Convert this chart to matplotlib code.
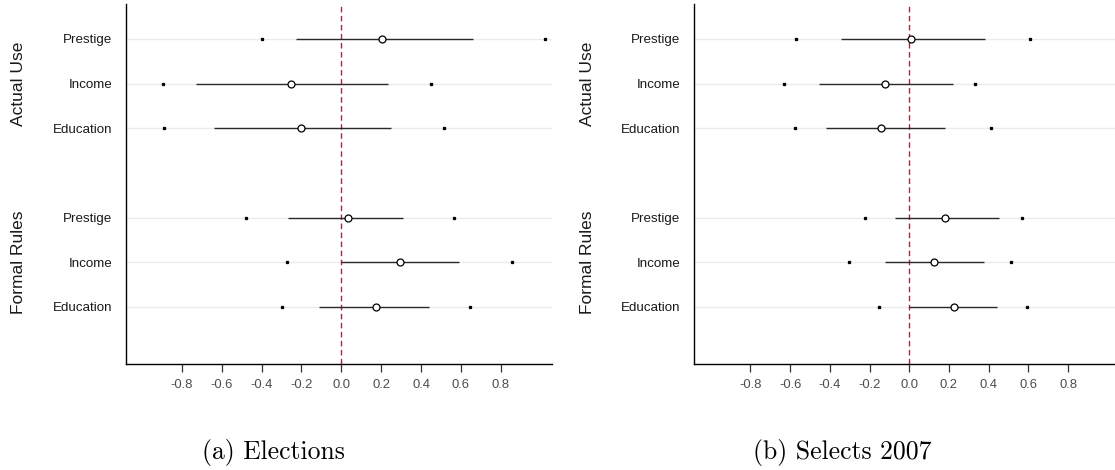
import matplotlib
matplotlib.use("Agg")
import matplotlib.pyplot as plt
from matplotlib.transforms import blended_transform_factory

plt.rcParams['font.family'] = ['Liberation Sans', 'DejaVu Sans']

categories = ["Prestige", "Income", "Education"]
groups = ["Actual Use", "Formal Rules"]
x_ticks = [-0.8, -0.6, -0.4, -0.2, 0.0, 0.2, 0.4, 0.6, 0.8]
x_tick_labels = ["-0.8", "-0.6", "-0.4", "-0.2", "0.0", "0.2", "0.4", "0.6", "0.8"]
captions = ["(a) Elections", "(b) Selects 2007"]

# Panel (a) Elections
a_au_est = [0.205, -0.252, -0.200]
a_au_lo = [-0.227, -0.727, -0.641]
a_au_hi = [0.659, 0.234, 0.247]
a_au_dlo = [-0.398, -0.893, -0.887]
a_au_dhi = [1.021, 0.448, 0.517]
a_fr_est = [0.036, 0.295, 0.173]
a_fr_lo = [-0.266, 0.000, -0.110]
a_fr_hi = [0.308, 0.589, 0.441]
a_fr_dlo = [-0.479, -0.270, -0.297]
a_fr_dhi = [0.563, 0.857, 0.644]

# Panel (b) Selects 2007
b_au_est = [0.009, -0.121, -0.141]
b_au_lo = [-0.346, -0.457, -0.420]
b_au_hi = [0.380, 0.220, 0.179]
b_au_dlo = [-0.571, -0.630, -0.577]
b_au_dhi = [0.609, 0.332, 0.413]
b_fr_est = [0.180, 0.127, 0.223]
b_fr_lo = [-0.073, -0.123, 0.000]
b_fr_hi = [0.450, 0.375, 0.441]
b_fr_dlo = [-0.225, -0.302, -0.152]
b_fr_dhi = [0.566, 0.512, 0.595]

W, H = 1115, 470
fig = plt.figure(figsize=(W / 100, H / 100), dpi=100)

row_pos = {groups[0]: [8, 7, 6], groups[1]: [4, 3, 2]}

panels = [
    dict(px=(126, 552), xlim=(-1.080, 1.057), cap_x=273,
         data={groups[0]: (a_au_est, a_au_lo, a_au_hi, a_au_dlo, a_au_dhi),
               groups[1]: (a_fr_est, a_fr_lo, a_fr_hi, a_fr_dlo, a_fr_dhi)}),
    dict(px=(694, 1115), xlim=(-1.084, 1.036), cap_x=842,
         data={groups[0]: (b_au_est, b_au_lo, b_au_hi, b_au_dlo, b_au_dhi),
               groups[1]: (b_fr_est, b_fr_lo, b_fr_hi, b_fr_dlo, b_fr_dhi)}),
]

top_px, bot_px = 4, 364
for i, p in enumerate(panels):
    x0, x1 = p['px']
    ax = fig.add_axes([x0 / W, (H - bot_px) / H, (x1 - x0) / W, (bot_px - top_px) / H])
    ax.set_xlim(*p['xlim'])
    ax.set_ylim(0.724, 8.78)
    for s in ['top', 'right']:
        ax.spines[s].set_visible(False)
    for s in ['left', 'bottom']:
        ax.spines[s].set_color('black')
        ax.spines[s].set_linewidth(1.0)

    yt, yl = [], []
    for g in groups:
        est, lo, hi, dlo, dhi = p['data'][g]
        ys = row_pos[g]
        for k in range(3):
            y = ys[k]
            ax.axhline(y, color='#ebebeb', lw=1.0, zorder=0)
            ax.plot([lo[k], hi[k]], [y, y], color='#2a2a2a', lw=1.0, zorder=2,
                    solid_capstyle='butt')
            ax.plot([dlo[k], dhi[k]], [y, y], ls='none', marker='s', ms=1.4,
                    color='black', zorder=3)
            ax.plot([est[k]], [y], ls='none', marker='o', ms=5.0, mfc='white',
                    mec='black', mew=0.9, zorder=4)
            yt.append(y)
            yl.append(categories[k])
        tr = blended_transform_factory(fig.transFigure, ax.transData)
        ax.text((x0 - 107) / W, ys[1], g, transform=tr, rotation=90,
                ha='center', va='center', fontsize=12.5, color='#1a1a1a')

    ax.axvline(0, color='#dd1030', lw=1.0, ls=(0, (4, 2.5)), zorder=1)

    ax.set_yticks(yt)
    ax.set_yticklabels(yl, fontsize=9.6, color='#1a1a1a')
    ax.tick_params(axis='y', length=0, pad=10)
    ax.set_xticks(x_ticks)
    ax.set_xticklabels(x_tick_labels, fontsize=9.4, color='#4d4d4d')
    ax.tick_params(axis='x', length=6, width=0.9, color='#333333', pad=5,
                   direction='out')

    fig.text(p['cap_x'] / W, 1 - 452 / H, captions[i], family='cmr10',
             fontsize=18.5, ha='center', va='center', color='black')

fig.savefig('out.png', dpi=100)
